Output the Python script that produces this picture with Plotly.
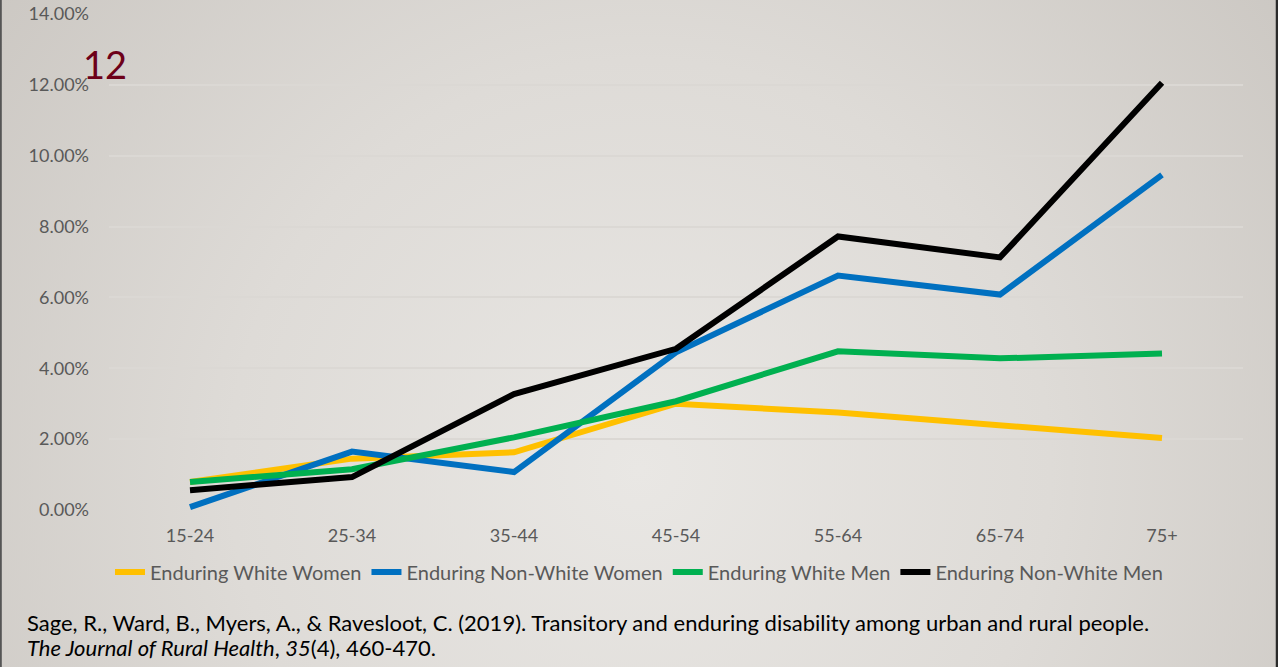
import base64
import plotly.graph_objects as go

categories = ["15-24", "25-34", "35-44", "45-54", "55-64", "65-74", "75+"]
white_women = [0.79, 1.45, 1.63, 3.0, 2.75, 2.4, 2.03]
nonwhite_women = [0.08, 1.65, 1.07, 4.45, 6.62, 6.08, 9.46]
white_men = [0.79, 1.15, 2.05, 3.07, 4.48, 4.28, 4.42]
nonwhite_men = [0.56, 0.93, 3.27, 4.55, 7.72, 7.13, 12.06]
y_ticks = [0, 2, 4, 6, 8, 10, 12, 14]
y_tick_labels = ["0.00%", "2.00%", "4.00%", "6.00%", "8.00%", "10.00%", "12.00%", "14.00%"]

series = [
    ("Enduring White Women", white_women, "#FFC000"),
    ("Enduring Non-White Women", nonwhite_women, "#0070C0"),
    ("Enduring White Men", white_men, "#00B050"),
    ("Enduring Non-White Men", nonwhite_men, "#000000"),
]

FONT = "Lato"
W, H = 1278, 667
L, R, T, B = 109, 35, 14, 157
PW, PH = W - L - R, H - T - B


def px(x):
    return (x - L) / PW


def py(y):
    return (H - B - y) / PH


fig = go.Figure()
for name, vals, col in series:
    fig.add_trace(go.Scatter(
        x=categories, y=vals, name=name, mode="lines",
        line=dict(color=col, width=6),
    ))

svg = """<svg xmlns='http://www.w3.org/2000/svg' width='1278' height='667'>
<defs><radialGradient id='g' cx='640' cy='470' r='820' gradientUnits='userSpaceOnUse'>
<stop offset='0' stop-color='#e9e7e4'/><stop offset='0.5' stop-color='#dedbd7'/><stop offset='1' stop-color='#cbc7c2'/>
</radialGradient></defs><rect width='1278' height='667' fill='url(#g)'/></svg>"""
src = "data:image/svg+xml;base64," + base64.b64encode(svg.encode()).decode()

fig.update_layout(
    width=W, height=H,
    margin=dict(l=L, r=R, t=T, b=B, autoexpand=False),
    paper_bgcolor="#dedbd7",
    plot_bgcolor="rgba(0,0,0,0)",
    font=dict(family=FONT, color="#595959", size=18),
    images=[dict(source=src, xref="paper", yref="paper", x=px(0), y=py(0),
                 sizex=W / PW, sizey=H / PH, xanchor="left", yanchor="top",
                 sizing="stretch", layer="below")],
    showlegend=True,
    legend=dict(orientation="h", xref="container", x=0.5, xanchor="center",
                y=py(572), yanchor="middle",
                font=dict(size=20, color="#595959", family=FONT),
                bgcolor="rgba(0,0,0,0)", itemwidth=30, traceorder="normal"),
    xaxis=dict(type="category", range=[-0.5, 6.5], showgrid=False, zeroline=False,
               showline=False, ticks="", tickfont=dict(size=18, color="#595959"),
               ticklabelstandoff=13, automargin=False, fixedrange=True),
    yaxis=dict(range=[0, 14], tickvals=y_ticks, ticktext=y_tick_labels,
               showgrid=True, gridcolor="#dbd8d4", gridwidth=1.5, zeroline=False,
               showline=False, ticks="", tickfont=dict(size=18, color="#595959"),
               ticklabelstandoff=19, automargin=False, fixedrange=True),
    annotations=[
        dict(text="12", xref="paper", yref="paper", x=px(105), y=py(64),
             showarrow=False, font=dict(size=38, color="#6d0019", family=FONT),
             xanchor="center", yanchor="middle"),
        dict(text="Sage, R., Ward, B., Myers, A., & Ravesloot, C. (2019). Transitory and enduring disability among urban and rural people.",
             xref="paper", yref="paper", x=px(25), y=py(622),
             showarrow=False, font=dict(size=22, color="#000000", family=FONT),
             xanchor="left", yanchor="middle"),
        dict(text="<i>The Journal of Rural Health</i>, <i>35</i>(4), 460-470.",
             xref="paper", yref="paper", x=px(25), y=py(647),
             showarrow=False, font=dict(size=22, color="#000000", family=FONT),
             xanchor="left", yanchor="middle"),
    ],
    shapes=[
        dict(type="line", xref="paper", yref="paper", x0=px(0.8), x1=px(0.8),
             y0=py(0), y1=py(H), line=dict(color="#555555", width=2)),
        dict(type="line", xref="paper", yref="paper", x0=px(1277), x1=px(1277),
             y0=py(0), y1=py(H), line=dict(color="#2a2a2a", width=2.5)),
    ],
)

fig.write_html("out.html")
